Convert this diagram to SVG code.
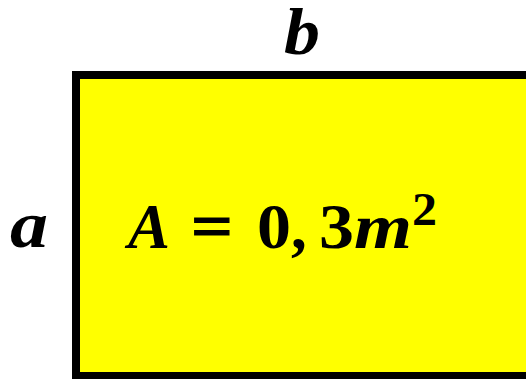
<svg xmlns="http://www.w3.org/2000/svg" width="526" height="379" viewBox="0 0 526 379">
<style>
.it{font-family:"Liberation Serif","DejaVu Serif",serif;font-style:italic;font-weight:bold;fill:#000}
.up{font-family:"Liberation Serif","DejaVu Serif",serif;font-weight:bold;fill:#000}
</style>
<rect width="526" height="379" fill="#fff"/>
<g id="rectangle">
<rect x="76" y="75" width="454" height="301" fill="#ffff00" stroke="#000" stroke-width="8"/>
</g>
<g id="label-b"><text class="it" x="284" y="54" font-size="65" textLength="36" lengthAdjust="spacingAndGlyphs">b</text></g>
<g id="label-a"><text class="it" x="10" y="247" font-size="65" textLength="38" lengthAdjust="spacingAndGlyphs">a</text></g>
<g id="area">
<text class="it" x="128" y="248" font-size="63">A</text>
<text class="up" x="191" y="248" font-size="63" textLength="42" lengthAdjust="spacingAndGlyphs" stroke="#000" stroke-width="1">=</text>
<text class="up" x="257" y="248" font-size="63" textLength="34" lengthAdjust="spacingAndGlyphs">0</text>
<text class="up" x="291" y="248" font-size="63">,</text>
<text class="up" x="319" y="248" font-size="63" textLength="35" lengthAdjust="spacingAndGlyphs">3</text>
<text class="it" x="354" y="248" font-size="63" textLength="58" lengthAdjust="spacingAndGlyphs">m</text>
<text class="up" x="412" y="225" font-size="46" textLength="25" lengthAdjust="spacingAndGlyphs">2</text>
</g>
</svg>
